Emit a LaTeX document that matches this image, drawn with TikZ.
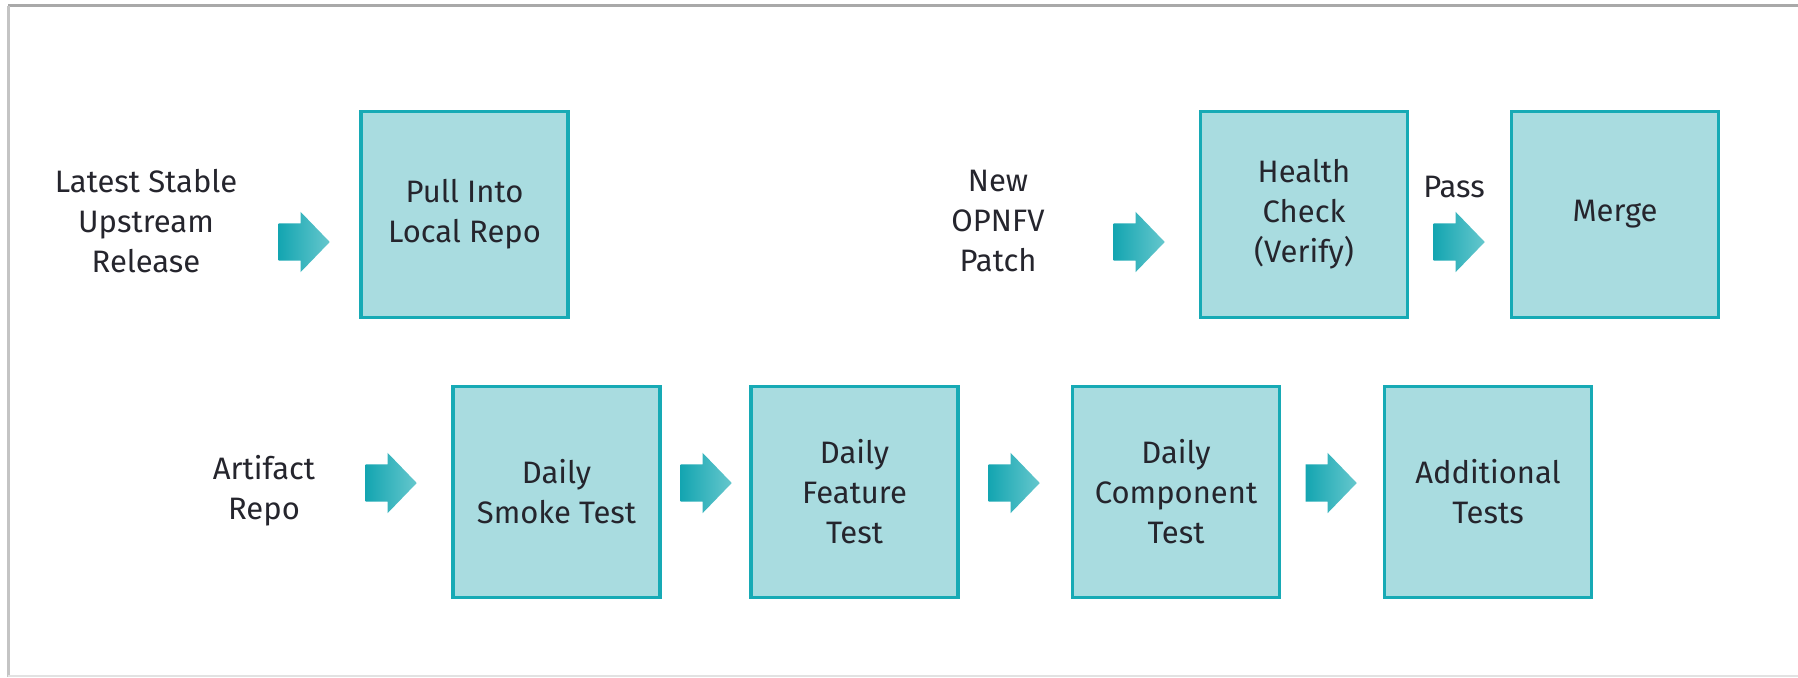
\documentclass[tikz,border=0pt]{standalone}
\usepackage{fontspec}
\setmainfont{Fira Sans}
\usetikzlibrary{shapes.arrows}
\definecolor{boxfill}{HTML}{A9DCE0}
\definecolor{boxline}{HTML}{17AAB5}
\definecolor{arrowdark}{HTML}{14A5B1}
\definecolor{arrowlight}{HTML}{66C7CD}
\definecolor{ink}{HTML}{25252D}
\definecolor{frametop}{HTML}{A9A9A9}
\definecolor{frameleft}{HTML}{C4C4C4}
\definecolor{framebottom}{HTML}{E2E2E2}

\begin{document}
\begin{tikzpicture}[x=1pt,y=-1pt,
  txt/.style={text=ink, align=center, inner sep=0pt,
    font=\fontsize{31}{40}\selectfont},
  stage/.style={txt, draw=boxline, line width=3.5pt, fill=boxfill,
    minimum width=207pt, minimum height=206pt},
  lowstage/.style={stage, minimum height=211pt},
  flow/.style={single arrow, draw=none, inner xsep=0pt, inner ysep=18.5pt,
    left color=arrowdark, right color=arrowlight,
    minimum height=51pt, anchor=tip,
    single arrow head extend=11.5pt, single arrow tip angle=92}]

\useasboundingbox (0,0) rectangle (1798,677);

% frame
\draw[line width=3pt, frametop] (8,6) -- (1798,6);
\draw[line width=3pt, frameleft] (8,6) -- (8,677);
\draw[line width=2pt, framebottom] (8,676) -- (1798,676);

% upstream path
\node[txt] (upstream) at (146,221) {Latest Stable\\Upstream\\Release};
\node[flow] (a1) at (330,242) {};
\node[stage] (pull) at (464.5,214.5) {Pull Into\\Local Repo};

% patch verification path
\node[txt] (patch) at (998,221) {New\\OPNFV\\Patch};
\node[flow] (a2) at (1165,242) {};
\node[stage] (health) at (1304,214.5) {Health\\Check\\(Verify)};
\node[flow] (a3) at (1485,242) {};
\node[txt] (pass) at (1454,187) {Pass};
\node[stage] (merge) at (1615,214.5) {Merge};

% daily test chain
\node[txt] (artifact) at (264,491) {Artifact\\Repo};
\node[flow] (b1) at (417,483) {};
\node[lowstage] (smoke) at (556.5,492) {Daily\\Smoke Test};
\node[flow] (b2) at (732,483) {};
\node[lowstage] (feature) at (854.5,492) {Daily\\Feature\\Test};
\node[flow] (b3) at (1040,483) {};
\node[lowstage] (component) at (1176,492) {Daily\\Component\\Test};
\node[flow] (b4) at (1357,483) {};
\node[lowstage] (additional) at (1488,492) {Additional\\Tests};
\end{tikzpicture}
\end{document}
